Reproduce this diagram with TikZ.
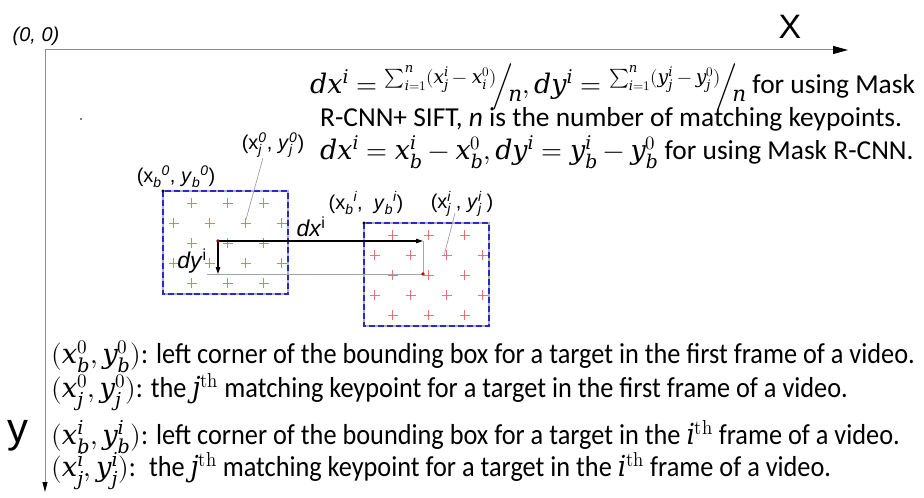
\documentclass[tikz,border=0pt]{standalone}
\usepackage{fontspec}
\usepackage{unicode-math}
\setmainfont{Carlito}
\setmathfont{Latin Modern Math}
\setmathfont{DejaVu Serif Italic}[range=it->up]
\newfontfamily\labelfont{Liberation Sans}
\usetikzlibrary{arrows.meta,positioning}

\definecolor{crosspink}{RGB}{248,110,110}
\definecolor{boxblue}{RGB}{40,40,210}

% staggered and stacked indices for the Arial-like point labels
\newcommand\stag[2]{\textsubscript{\itshape #1}\textsuperscript{\itshape #2}}
\newcommand\stack[2]{\makebox[0pt][l]{\textsuperscript{\itshape #2}}\textsubscript{\itshape #1}\hspace{0.25em}}
% skewed fraction and larger math
\newcommand\skewfrac[2]{\raisebox{0.38em}{\scalebox{0.7}{$#1$}}\!\Big/\!\raisebox{-0.3em}{\scalebox{0.8}{$#2$}}}
\newcommand\mth[1]{{\fontsize{27}{30}\selectfont$#1$}}
\newcommand\lmth[1]{{\fontsize{27.5}{30}\selectfont$#1$}}
\newcommand\narrowtext[1]{\scalebox{0.91}[1]{#1}}
\newcommand\nth[1]{$#1^{\symup{th}}$}

\tikzset{
  axisline/.style={draw=gray!90, line width=1pt},
  bboxline/.style={draw=boxblue, dash pattern=on 6pt off 3pt, line width=1.3pt},
  bboxback/.style={draw=gray!60, line width=1.3pt},
  keycross/.style={draw=crosspink, line width=1bp},
  leader/.style={draw=gray!75, line width=0.7pt},
  shiftline/.style={draw=black, line width=1.1pt, -{Triangle[length=7pt,width=4.5pt]}},
  guide/.style={draw=gray!70, line width=0.8pt},
  coordlabel/.style={font=\labelfont\fontsize{20}{24}\selectfont, inner sep=0pt},
  note/.style={font=\fontsize{27.5}{30}\selectfont, inner sep=0pt, anchor=west},
  legend/.style={font=\fontsize{29}{32}\selectfont, inner sep=0pt, anchor=west},
}

\begin{document}
\begin{tikzpicture}[x=1bp, y=-1bp]
\useasboundingbox (0,0) rectangle (924,498);

% axes
\coordinate (o) at (45,50);
\coordinate (xend) at (848,50);
\coordinate (yend) at (45,492);
\draw[axisline, -{Triangle[length=15pt,width=8pt,black]}] (o) -- (xend);
\draw[axisline, -{Triangle[length=10pt,width=5pt,black]}] (o) -- (yend);
\node[coordlabel, font=\labelfont\itshape\fontsize{20}{24}\selectfont] (orig) at (36,36) {(0, 0)};
\node[inner sep=0pt, font=\labelfont\fontsize{34}{36}\selectfont] (xlab) at (790,27) {X};
\node[inner sep=0pt, font=\labelfont\fontsize{42}{44}\selectfont] (ylab) at (18,436) {y};
\fill (81,119) circle (0.8pt);

% bounding boxes
\coordinate (b0) at (163,191);
\coordinate (bi) at (364,223);
\foreach \bx in {b0,bi}{
  \draw[bboxback] (\bx) rectangle ++(125,103);
  \draw[bboxline] (\bx) rectangle ++(125,103);
  % keypoint crosses, on pixel centres
  \begin{scope}[shift={(\bx)}, shift={(0.5,0.5)}]
    \draw[keycross] \foreach \dy/\xs/\nk in {12/28/2, 32/10/3, 52/28/2, 72/10/3, 92/28/2}{
      \foreach \k in {0,...,\nk}{
        (\xs+36*\k-5,\dy) -- ++(10,0) (\xs+36*\k,\dy-5) -- ++(0,10)
      }};
  \end{scope}
  \fill (\bx) circle (1.6pt);
}

% keypoints and shift
\coordinate (kj0) at (245,223);
\coordinate (kji) at (444,256);
\coordinate (p0) at (218,241);
\coordinate (pi) at (423,274);
\coordinate (dxend) at (423,241);
\coordinate (dyend) at (218,274);
\coordinate (dyfoot) at (207,274);
\draw[guide] (dyfoot) -- (pi);
\draw[guide] (dxend) -- (pi);
\draw[shiftline] (p0) -- (dxend);
\draw[shiftline] (p0) -- (dyend);
\fill[red!60!black] (p0) circle (1.8pt);
\fill[red!80!black] (pi) circle (1.8pt);

% point labels
\node[coordlabel] (lb0) at (176,177) {(x\stag{b}{0}, \textit{y}\stag{b}{0})};
\node[coordlabel] (lj0) at (273,145) {(x\stack{j}{0}, \textit{y}\stack{j}{0})};
\node[coordlabel] (lbi) at (366,203) {(x\stag{b}{i}, \ \textit{y}\stag{b}{i})};
\node[coordlabel] (lji) at (462,204) {(x\stack{j}{i}, \textit{y}\stack{j}{i})};
\node[coordlabel, font=\labelfont\fontsize{23}{26}\selectfont] (ldx) at (311,227) {\textit{dx}\textsuperscript{i}};
\node[coordlabel, font=\labelfont\fontsize{23}{26}\selectfont] (ldy) at (192,261) {\textit{dy}\textsuperscript{i}};
\draw[leader] (263,158) -- (kj0);
\draw[leader] (455,213) -- (kji);

% formulas
\node[note] (f1) at (310,87) {\mth{dx^i = \skewfrac{\sum_{i=1}^{n}(x_j^i-x_i^0)}{n}, dy^i = \skewfrac{\sum_{i=1}^{n}(y_j^i-y_j^0)}{n}} for using Mask};
\node[note] (f2) at (320,119) {R-CNN+ SIFT, \textit{n} is the number of matching keypoints.};
\node[note] (f3) at (320,152) {\mth{dx^i = x_b^i - x_b^0, dy^i = y_b^i - y_b^0} for using Mask R-CNN.};

% legend
\node[legend] (g1) at (51,357) {\lmth{(x_b^0, y_b^0)}\narrowtext{: left corner of the bounding box for a target in the first frame of a video.}};
\node[legend] (g2) at (51,392) {\lmth{(x_j^0, y_j^0)}\narrowtext{: the \nth{j} matching keypoint for a target in the first frame of a video.}};
\node[legend] (g3) at (51,437) {\lmth{(x_b^i, y_b^i)}\narrowtext{: left corner of the bounding box for a target in the \nth{i} frame of a video.}};
\node[legend] (g4) at (51,471) {\lmth{(x_j^i, y_j^i)}\narrowtext{:\hspace{0.5em}the \nth{j} matching keypoint for a target in the \nth{i} frame of a video.}};
\end{tikzpicture}
\end{document}
